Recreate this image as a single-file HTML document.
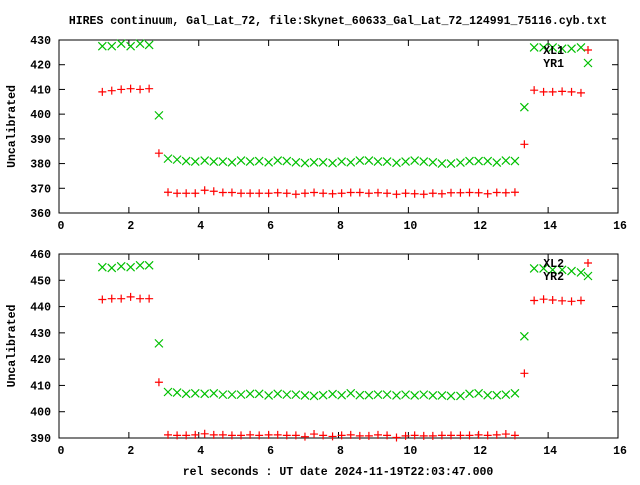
<!DOCTYPE html>
<html><head><meta charset="utf-8"><style>
body{margin:0;background:#fff}
svg text{font-family:"Liberation Mono",monospace;font-weight:bold;font-size:11.5px;fill:#000}
</style></head><body>
<svg id="chart" width="640" height="480" xmlns="http://www.w3.org/2000/svg">
<text x="338" y="24" text-anchor="middle">HIRES continuum, Gal_Lat_72, file:Skynet_60633_Gal_Lat_72_124991_75116.cyb.txt</text>
<text x="338" y="475" text-anchor="middle">rel seconds : UT date 2024-11-19T22:03:47.000</text>
</svg>
<script>
const times=[1.24,1.51,1.78,2.05,2.32,2.58,2.86,3.12,3.38,3.64,3.90,4.17,4.43,4.69,4.95,5.21,5.47,5.73,6.00,6.26,6.52,6.78,7.04,7.30,7.56,7.83,8.09,8.35,8.61,8.87,9.13,9.39,9.66,9.92,10.18,10.44,10.70,10.96,11.22,11.49,11.75,12.01,12.27,12.53,12.79,13.05,13.32,13.60,13.87,14.13,14.40,14.67,14.94];
const xl1=[409,409.5,410,410.3,410,410.3,384.2,368.4,368,368,368,369.2,368.8,368.3,368.3,368,368,368,368,368.2,368,367.6,368,368.3,368,367.8,368,368.3,368.3,368,368.2,368,367.6,368,367.8,367.6,368,367.8,368.2,368.2,368.3,368.2,367.8,368.3,368.2,368.4,387.8,409.7,409,409,409.2,409,408.6];
const yr1=[427.5,427.5,428.5,427.5,428.5,428,399.5,382,381.6,381,380.8,381.2,380.8,380.8,380.5,381.2,380.8,381,380.5,381.2,381,380.5,380.2,380.5,380.5,380.2,380.8,381.2,381.2,380.8,380.8,380.3,380.8,381.2,380.8,380.5,380,380,380.4,381,381,381,380.4,381.2,381,402.8,427,427,427,426.5,426.5,427].slice(0,0);
const yr1v=[427.5,427.5,428.5,427.5,428.5,428,399.5,382,381.6,381,380.8,381.2,380.8,380.8,380.5,381.2,380.8,381,380.5,381.2,381,380.5,380.2,380.5,380.5,380.2,380.8,380.5,381.2,381.2,380.8,380.8,380.3,380.8,381.2,380.8,380.5,380,380,380.4,381,381,381,380.4,381.2,381,402.8,427,427,427,426.5,426.5,427];
const xl2=[442.7,443,443,443.7,443,443,411.2,391.2,391,391,391.2,391.6,391.2,391.2,391,391,391.2,391,391.2,391.2,391,391,390.5,391.5,391,390.6,391,391.2,390.8,390.8,391.2,391,390.2,390.8,391,390.8,390.8,391,391,391,391,391.2,391,391.2,391.5,391,414.6,442.3,442.8,442.5,442.2,442,442.3];
const yr2=[455,454.7,455.3,455,455.7,455.7,426,407.5,407.3,406.8,407,406.8,407,406.5,406.5,406.5,406.8,406.8,406.2,406.8,406.5,406.5,406.2,406,406.3,406.7,406.3,407,406.3,406.3,406.5,406.5,406.2,406.5,406.2,406.5,406.2,406.2,406,406,406.8,407,406.3,406.3,406.5,407,428.7,454.5,454.5,454,454,453.5,453];
const xTicks=[0,2,4,6,8,10,12,14,16];
const yTicks1=[360,370,380,390,400,410,420,430];
const yTicks2=[390,400,410,420,430,440,450,460];
const svg=document.getElementById('chart');
const NS='http://www.w3.org/2000/svg';
function mk(tag,attrs,parent){const e=document.createElementNS(NS,tag);for(const k in attrs)e.setAttribute(k,attrs[k]);(parent||svg).appendChild(e);return e;}
const X0=59,X1=618;
function sx(t){return X0+(t-0)/(16-0)*(X1-X0);}
function panel(idx,top,bot,ymin,ymax,yTicks,s1,s2,n1,n2,key1y,key2y){
  const g=mk('g',{});
  
  
  const sy=v=>bot-(v-ymin)/(ymax-ymin)*(bot-top);
  const fr=mk('rect',{x:X0,y:top,width:X1-X0,height:bot-top,fill:'none',stroke:'#000','stroke-width':1},g);
  
  
  yTicks.forEach(v=>{const y=sy(v);
    mk('line',{x1:X0,x2:X0+6,y1:y,y2:y,stroke:'#000'},g);
    mk('line',{x1:X1,x2:X1-6,y1:y,y2:y,stroke:'#000'},g);
    const t=mk('text',{x:X0-8,y:y+4,'text-anchor':'end'},g);t.textContent=v;
    
    });
  xTicks.forEach(v=>{const x=sx(v);
    mk('line',{x1:x,x2:x,y1:bot,y2:bot-6,stroke:'#000'},g);
    mk('line',{x1:x,x2:x,y1:top,y2:top+6,stroke:'#000'},g);
    const t=mk('text',{x:x+2,y:bot+16,'text-anchor':'middle'},g);t.textContent=v;
    
    });
  const yl=mk('text',{x:15,y:(top+bot)/2,'text-anchor':'middle',transform:'rotate(-90 15 '+((top+bot)/2)+')'},g);
  yl.textContent='Uncalibrated';
  
  
  function plus(x,y,p){mk('path',{d:`M${x-4},${y}H${x+4}M${x},${y-4}V${y+4}`,stroke:'#ff0000','stroke-width':1.2,fill:'none'},p);}
  function cross(x,y,p){mk('path',{d:`M${x-4},${y-4}L${x+4},${y+4}M${x-4},${y+4}L${x+4},${y-4}`,stroke:'#00c000','stroke-width':1.2,fill:'none'},p);}
  const g1=mk('g',{},g);
  const g2=mk('g',{},g);
  times.forEach((t,i)=>{cross(sx(t),sy(s2[i]),g2);plus(sx(t),sy(s1[i]),g1);});
  const k1=mk('text',{x:564,y:key1y+4,'text-anchor':'end'},g);k1.textContent=n1;
  
  
  plus(588,key1y,g);
  const k2=mk('text',{x:564,y:key2y+4,'text-anchor':'end'},g);k2.textContent=n2;
  
  
  cross(588,key2y,g);
}
panel(1,40,213,360,430,yTicks1,xl1,yr1v,'XL1','YR1',50,63);
panel(2,254,438,390,460,yTicks2,xl2,yr2,'XL2','YR2',263,276);
</script>
</body></html>
